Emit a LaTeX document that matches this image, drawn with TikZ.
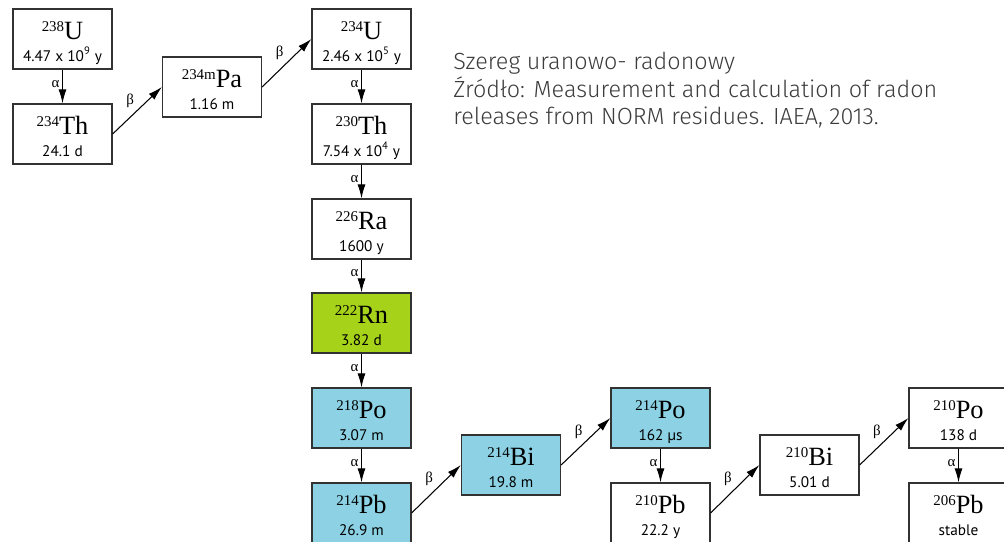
\documentclass[tikz,border=0pt]{standalone}
\usepackage{fontspec}
\setmainfont{Liberation Serif}
\newfontfamily\hlfont{PT Sans}
\newfontfamily\notefont{Fira Sans}[UprightFont=* Light]
\usetikzlibrary{arrows.meta}
\definecolor{lime}{RGB}{166,210,26}
\definecolor{sky}{RGB}{140,210,228}
\definecolor{edge}{RGB}{50,50,50}
\definecolor{note}{RGB}{60,60,60}
\newcommand{\el}[2]{\rule{0pt}{14pt}\smash{\raisebox{4.6pt}{\fontsize{8.5}{8.5}\selectfont #1}{\fontsize{15}{15}\selectfont #2}}}
\newcommand{\hlife}[1]{\smash{\hlfont #1}\rule[-0.8pt]{0pt}{0.8pt}}
\tikzset{
  >={Latex[length=2.8mm,width=1.6mm]},
  iso/.style={draw=edge,fill=#1,line width=0.7pt,minimum width=19.8mm,
    minimum height=12mm,inner sep=0pt,align=center,
    font=\fontsize{8.7}{12.5}\selectfont},
  iso/.default=white,
  decay/.style={->,line width=0.6pt,draw=black},
  tag/.style={font=\fontsize{8.5}{8.5}\selectfont,inner sep=1.5pt},
  note/.style={font=\notefont\fontsize{13.3}{15.6}\selectfont,text=note,
    align=left,inner sep=0pt},
}
\begin{document}
\begin{tikzpicture}[x=0.2mm,y=-0.2mm]
  \useasboundingbox (0,0) rectangle (1004,542);
  \clip (0,0) rectangle (1004,542);
  % uranium part
  \node[iso] (u238) at (62.5,39) {\el{238}{U}\\\hlife{4.47 x 10\textsuperscript{9} y}};
  \node[iso] (th234) at (62.5,134) {\el{234}{Th}\\\hlife{24.1 d}};
  \node[iso] (pa234) at (212,87) {\el{234m}{Pa}\\\hlife{1.16 m}};
  \node[iso] (u234) at (361.5,39) {\el{234}{U}\\\hlife{2.46 x 10\textsuperscript{5} y}};
  \node[iso] (th230) at (361.5,134) {\el{230}{Th}\\\hlife{7.54 x 10\textsuperscript{4} y}};
  \node[iso] (ra226) at (361.5,229) {\el{226}{Ra}\\\hlife{1600 y}};
  % radon and short-lived daughters
  \node[iso=lime] (rn222) at (361.5,323) {\el{222}{Rn}\\\hlife{3.82 d}};
  \node[iso=sky] (po218) at (361.5,418) {\el{218}{Po}\\\hlife{3.07 m}};
  \node[iso=sky] (pb214) at (361.5,513) {\el{214}{Pb}\\\hlife{26.9 m}};
  \node[iso=sky] (bi214) at (511,465) {\el{214}{Bi}\\\hlife{19.8 m}};
  \node[iso=sky] (po214) at (660.5,418) {\el{214}{Po}\\\hlife{162 µs}};
  % long-lived tail
  \node[iso] (pb210) at (660.5,513) {\el{210}{Pb}\\\hlife{22.2 y}};
  \node[iso] (bi210) at (809.5,465) {\el{210}{Bi}\\\hlife{5.01 d}};
  \node[iso] (po210) at (958.5,418) {\el{210}{Po}\\\hlife{138 d}};
  \node[iso] (pb206) at (958.5,513) {\el{206}{Pb}\\\hlife{stable}};
  % decays
  \foreach \a/\b in {u238/th234,u234/th230,th230/ra226,ra226/rn222,
    rn222/po218,po218/pb214,po214/pb210,po210/pb206}
    \draw[decay] (\a.south) -- node[tag,pos=0.42,left]{α} (\b.north);
  \foreach \a/\b in {th234/pa234,pa234/u234,pb214/bi214,bi214/po214,
    pb210/bi210,bi210/po210}
    \draw[decay] (\a.east) -- node[tag,midway,above left]{β} (\b.west);
  \node[note,anchor=north west] (src) at (453,52)
    {Szereg uranowo- radonowy\\Źródło: Measurement and calculation of radon\\releases from NORM residues. IAEA, 2013.};
\end{tikzpicture}
\end{document}
